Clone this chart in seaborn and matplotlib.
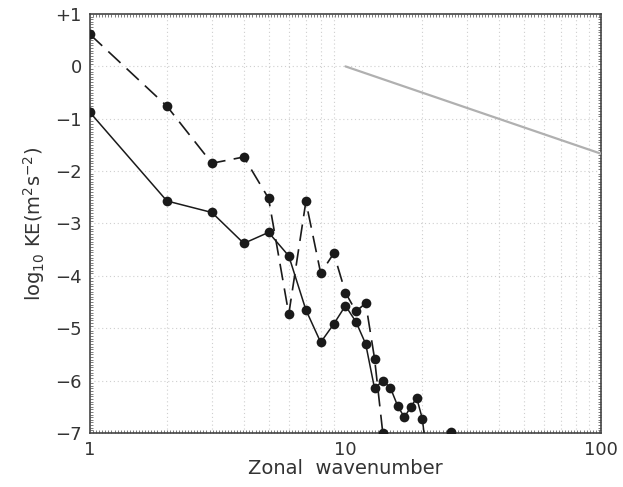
import numpy as np
import pandas as pd
import matplotlib
matplotlib.use("Agg")
import matplotlib.pyplot as plt
import matplotlib.ticker as mticker
import seaborn as sns

# Data
wn_solid = [1, 2, 3, 4, 5, 6, 7, 8, 9, 10, 11, 12, 13, 14, 15, 16, 17, 18, 19, 20, 21, 22, 23, 24, 25, 26, 27, 28]
ke_solid = [-0.88, -2.57, -2.79, -3.38, -3.17, -3.62, -4.65, -5.27, -4.92, -4.57, -4.88, -5.30, -6.15,
            -6.00, -6.14, -6.48, -6.70, -6.51, -6.33, -6.73, -7.6, -7.8, -7.7, -7.6, -7.4, -6.99, -7.5, -7.8]
wn_dash = [1, 2, 3, 4, 5, 6, 7, 8, 9, 10, 11, 12, 13, 14, 15, 16, 17]
ke_dash = [0.61, -0.76, -1.85, -1.73, -2.52, -4.73, -2.58, -3.95, -3.57, -4.32, -4.68, -4.52, -5.58,
           -7.0, -7.9, -8.2, -8.4]
ref_x = [10, 100]
ref_y = [0.0, -5.0 / 3.0]

ytick_vals = [1, 0, -1, -2, -3, -4, -5, -6, -7]
ytick_labels = ["+1", "0", "\u22121", "\u22122", "\u22123", "\u22124", "\u22125", "\u22126", "\u22127"]
xtick_vals = [1, 10, 100]
xtick_labels = ["1", "10", "100"]

sns.set_theme(style="white")
plt.rcParams["font.family"] = ["DejaVu Sans"]

fig = plt.figure(figsize=(6.23, 4.87), dpi=100)
ax = fig.add_axes([0.1445, 0.111, 0.82, 0.8602])

df_s = pd.DataFrame({"wn": wn_solid, "ke": ke_solid})
df_d = pd.DataFrame({"wn": wn_dash, "ke": ke_dash})
df_r = pd.DataFrame({"wn": ref_x, "ke": ref_y})

sns.lineplot(data=df_r, x="wn", y="ke", ax=ax, color="#b0b0b0", lw=1.6, zorder=3)
sns.lineplot(data=df_s, x="wn", y="ke", ax=ax, color="#1a1a1a", lw=1.1,
             marker="o", markersize=7, markeredgewidth=0, zorder=4)
sns.lineplot(data=df_d, x="wn", y="ke", ax=ax, color="#1a1a1a", lw=1.2,
             marker="o", markersize=7, markeredgewidth=0, zorder=4, dashes=False)
ax.lines[-1].set_dashes([10, 5])

ax.set_xscale("log")
ax.set_xlim(1, 100)
ax.set_ylim(-7, 1)

# dotted grid
for v in list(range(2, 10)) + list(range(20, 100, 10)):
    ax.axvline(v, color="#cfcfcf", lw=0.8, ls=(0, (1, 2.5)), zorder=1)
for v in range(-6, 1):
    ax.axhline(v, color="#cfcfcf", lw=0.8, ls=(0, (1, 2.5)), zorder=1)

ax.set_xticks(xtick_vals)
ax.set_xticklabels(xtick_labels)
ax.set_yticks(ytick_vals)
ax.set_yticklabels(ytick_labels)
# dense frame ticks (hatched frame look)
ax.xaxis.set_minor_locator(mticker.FixedLocator(10 ** np.arange(0, 2.0001, 0.012)))
ax.yaxis.set_minor_locator(mticker.MultipleLocator(0.05))
ax.tick_params(axis="both", which="major", direction="inout", length=8, width=1,
               labelsize=13, labelcolor="#333333", color="#333333", pad=2)
ax.tick_params(axis="both", which="minor", direction="in", length=2.5, width=0.6,
               color="#666666", left=True, right=True, top=True, bottom=True)
ax.xaxis.set_minor_formatter(mticker.NullFormatter())

for s in ax.spines.values():
    s.set_color("#444444")
    s.set_linewidth(1.2)

ax.set_xlabel("Zonal  wavenumber", fontsize=14, color="#333333", labelpad=0)
ax.set_ylabel(r"log$_{10}$ KE(m$^2$s$^{-2}$)", fontsize=14, color="#333333", labelpad=6)

fig.savefig("out.png", dpi=100)
